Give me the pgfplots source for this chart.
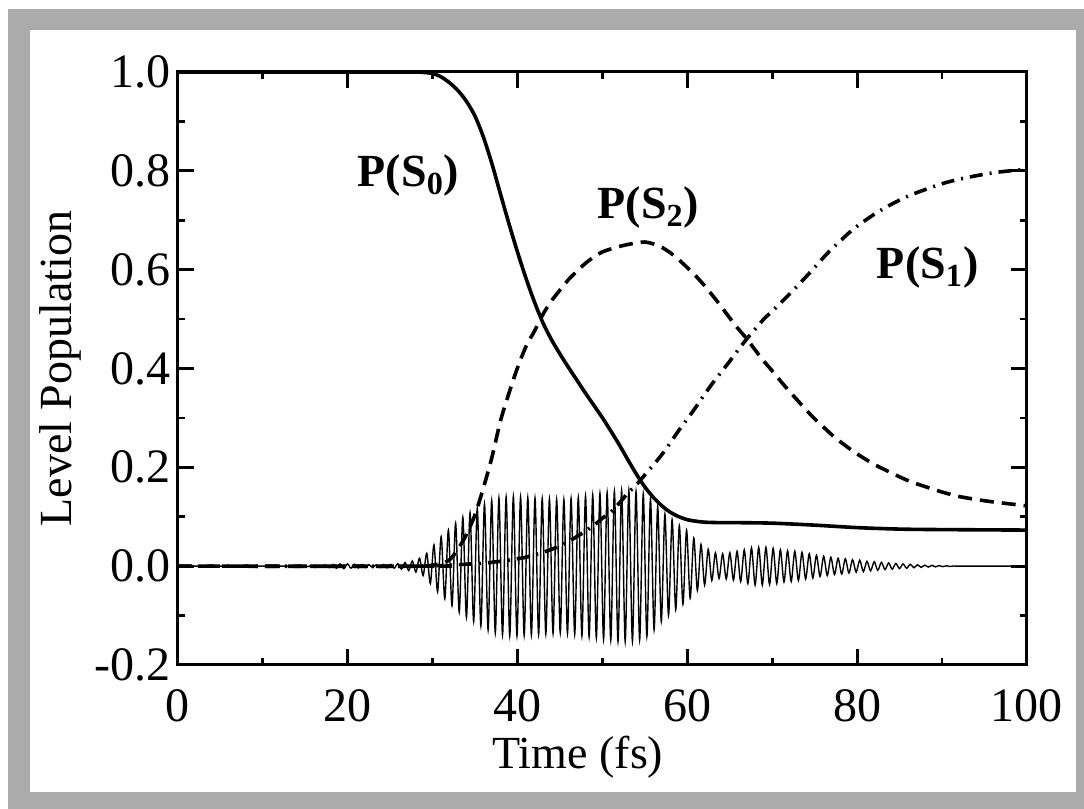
\documentclass[border=0pt]{standalone}
\usepackage{pgfplots}
\pgfplotsset{compat=1.18}
\usepackage{fontspec}
\setmainfont{Liberation Serif}
\definecolor{framegray}{RGB}{171,171,171}
\begin{document}
\begin{tikzpicture}[x=1pt,y=1pt]
\useasboundingbox (0,0) rectangle (542,404.5);
\fill[framegray] (4,0) rectangle (542,400);
\fill[white] (15,8.5) rectangle (538,389.5);
\begin{axis}[
  at={(89pt,72pt)}, anchor=south west,
  scale only axis, width=424.5pt, height=296.5pt,
  xmin=0, xmax=100, ymin=-0.2, ymax=1.0,
  xtick={0,20,40,60,80,100},
  minor xtick={10,30,50,70,90},
  ytick={-0.2,0,0.2,0.4,0.6,0.8,1.0},
  yticklabels={-0.2,0.0,0.2,0.4,0.6,0.8,1.0},
  minor ytick={-0.1,0.1,0.3,0.5,0.7,0.9},
  tick align=inside,
  major tick length=8pt, minor tick length=3.5pt,
  tick style={black, line width=1.4pt},
  axis line style={line width=1.5pt},
  /pgf/number format/assume math mode=true,
  tick label style={font=\fontsize{24}{28}\selectfont},
  xticklabel style={yshift=-9pt},
  xlabel={Time (fs)}, ylabel={Level Population},
  label style={font=\fontsize{23}{27}\selectfont},
  xlabel style={at={(axis description cs:0.471,-0.1737)}, anchor=base},
  ylabel style={at={(axis description cs:-0.1249,0.5)}, anchor=base},
  clip=true,
]
% laser field oscillation
\addplot[black, line width=0.7pt, smooth] coordinates {
(0,0) (14,0)
(14.425,-0.0003) (14.85,0.0006) (15.275,-0.0009) (15.7,0.0011) (16.125,-0.0014) (16.55,0.0017) (16.975,-0.002) (17.4,0.0025) (17.825,-0.003) (18.25,0.0035) (18.675,-0.0042) (19.1,0.0046) (19.525,-0.005) (19.95,0.0046) (20.375,-0.0041) (20.8,0.0038) (21.225,-0.0035) (21.65,0.0032) (22.075,-0.003) (22.5,0.003) (22.925,-0.003) (23.35,0.003) (23.775,-0.003) (24.2,0.0031) (24.625,-0.0034) (25.05,0.0037) (25.475,-0.004) (25.9,0.005) (26.325,-0.006) (26.75,0.0073) (27.175,-0.0087) (27.6,0.0104) (28.025,-0.012) (28.45,0.016) (28.875,-0.019) (29.3,0.026) (29.725,-0.035) (30.15,0.043) (30.575,-0.052) (31,0.06) (31.425,-0.066) (31.85,0.073) (32.275,-0.08) (32.7,0.087) (33.125,-0.093) (33.55,0.099) (33.975,-0.104) (34.4,0.108) (34.825,-0.112) (35.25,0.117) (35.675,-0.121) (36.1,0.126) (36.525,-0.129) (36.95,0.133) (37.375,-0.135) (37.8,0.138) (38.225,-0.139) (38.65,0.14) (39.075,-0.141) (39.5,0.141) (39.925,-0.141) (40.35,0.14) (40.775,-0.14) (41.2,0.139) (41.625,-0.139) (42.05,0.138) (42.475,-0.138) (42.9,0.137) (43.325,-0.137) (43.75,0.136) (44.175,-0.136) (44.6,0.135) (45.025,-0.135) (45.45,0.135) (45.875,-0.136) (46.3,0.137) (46.725,-0.138) (47.15,0.139) (47.575,-0.141) (48,0.142) (48.425,-0.143) (48.85,0.144) (49.275,-0.145) (49.7,0.147) (50.125,-0.148) (50.55,0.149) (50.975,-0.15) (51.4,0.151) (51.825,-0.152) (52.25,0.153) (52.675,-0.153) (53.1,0.153) (53.525,-0.152) (53.95,0.151) (54.375,-0.149) (54.8,0.146) (55.225,-0.142) (55.65,0.136) (56.075,-0.129) (56.5,0.12) (56.925,-0.112) (57.35,0.105) (57.775,-0.1) (58.2,0.094) (58.625,-0.088) (59.05,0.082) (59.475,-0.077) (59.9,0.073) (60.325,-0.065) (60.75,0.057) (61.175,-0.049) (61.6,0.044) (62.025,-0.038) (62.45,0.034) (62.875,-0.029) (63.3,0.027) (63.725,-0.025) (64.15,0.025) (64.575,-0.026) (65,0.027) (65.425,-0.028) (65.85,0.03) (66.275,-0.031) (66.7,0.033) (67.125,-0.035) (67.55,0.037) (67.975,-0.038) (68.4,0.038) (68.825,-0.038) (69.25,0.038) (69.675,-0.037) (70.1,0.036) (70.525,-0.035) (70.95,0.033) (71.375,-0.032) (71.8,0.031) (72.225,-0.031) (72.65,0.03) (73.075,-0.029) (73.5,0.028) (73.925,-0.026) (74.35,0.025) (74.775,-0.024) (75.2,0.022) (75.625,-0.021) (76.05,0.02) (76.475,-0.019) (76.9,0.018) (77.325,-0.017) (77.75,0.016) (78.175,-0.016) (78.6,0.015) (79.025,-0.014) (79.45,0.013) (79.875,-0.012) (80.3,0.012) (80.725,-0.011) (81.15,0.01) (81.575,-0.0095) (82,0.009) (82.425,-0.0083) (82.85,0.0077) (83.275,-0.007) (83.7,0.0065) (84.125,-0.006) (84.55,0.0055) (84.975,-0.005) (85.4,0.0046) (85.825,-0.0042) (86.25,0.0038) (86.675,-0.0033) (87.1,0.0029) (87.525,-0.0025) (87.95,0.002) (88.375,-0.0018) (88.8,0.0016) (89.225,-0.0014) (89.65,0.0012) (90.075,-0.001) (90.5,0.0008) (90.925,-0.0006) (91.35,0.0004) (91.775,-0.0002) (92.2,0) (100,0)
};
% P(S0)
\addplot[black, line width=1.8pt, smooth] coordinates {
(0,1.0) (28,1.0) (29,0.999) (30,0.997) (31,0.99) (32,0.978) (33,0.962) (34,0.94) (35,0.91) (36,0.867) (37,0.813) (38,0.752) (39,0.692) (40,0.635) (41,0.582) (42,0.534) (43,0.492) (44,0.458) (45,0.429) (46,0.402) (47,0.376) (48,0.35) (49,0.325) (50,0.3) (51,0.273) (52,0.245) (53,0.215) (54,0.186) (55,0.16) (56,0.139) (57,0.122) (58,0.109) (59,0.1) (60,0.094) (61,0.091) (62,0.089) (64,0.088) (66,0.088) (70,0.087) (75,0.083) (80,0.078) (85,0.075) (90,0.074) (100,0.073)
};
% P(S2)
\addplot[black, line width=1.8pt, smooth, dash pattern=on 7pt off 4pt] coordinates {
(0,0) (29,0) (30,0.002) (31,0.005) (32,0.013) (33,0.035) (34,0.065) (35,0.105) (36,0.16) (37,0.222) (38,0.295) (39,0.351) (40,0.402) (41,0.445) (42,0.476) (43,0.51) (44,0.537) (45,0.559) (46,0.58) (47,0.597) (48,0.613) (49,0.626) (50,0.636) (51,0.642) (52,0.647) (53,0.651) (54,0.654) (55,0.656) (56,0.652) (57,0.645) (58,0.634) (59,0.62) (60,0.604) (61,0.587) (62,0.568) (63,0.547) (64,0.525) (65,0.502) (66,0.48) (67,0.46) (68,0.437) (69,0.415) (70,0.395) (71,0.374) (72,0.354) (73,0.335) (74,0.316) (75,0.298) (76,0.282) (77,0.266) (78,0.252) (79,0.239) (80,0.227) (82,0.206) (84,0.189) (86,0.173) (88,0.161) (90,0.15) (92,0.141) (94,0.135) (96,0.13) (98,0.126) (100,0.122)
};
% P(S1)
\addplot[black, line width=1.8pt, smooth, dash pattern=on 6.5pt off 3.5pt on 1pt off 3.5pt] coordinates {
(0,0) (30,0) (32,0.002) (34,0.004) (36,0.006) (38,0.01) (40,0.015) (41,0.018) (42,0.023) (43,0.028) (44,0.034) (45,0.041) (46,0.05) (47,0.06) (48,0.071) (49,0.083) (50,0.097) (51,0.11) (52,0.128) (53,0.148) (54,0.165) (55,0.185) (56,0.205) (57,0.226) (58,0.25) (59,0.275) (60,0.298) (61,0.322) (62,0.347) (63,0.371) (64,0.393) (65,0.415) (66,0.438) (67,0.46) (68,0.48) (69,0.5) (70,0.516) (71,0.533) (72,0.55) (73,0.568) (74,0.586) (75,0.605) (76,0.624) (77,0.642) (78,0.658) (79,0.674) (80,0.688) (82,0.712) (84,0.732) (86,0.749) (88,0.762) (90,0.774) (92,0.783) (94,0.79) (96,0.796) (98,0.8) (100,0.803)
};
\node[font=\bfseries\fontsize{23}{27}\selectfont] at (axis cs:27.15,0.79) {P(S\textsubscript{0})};
\node[font=\bfseries\fontsize{23}{27}\selectfont] at (axis cs:55.4,0.725) {P(S\textsubscript{2})};
\node[font=\bfseries\fontsize{23}{27}\selectfont] at (axis cs:88.3,0.604) {P(S\textsubscript{1})};
\end{axis}
\end{tikzpicture}
\end{document}
